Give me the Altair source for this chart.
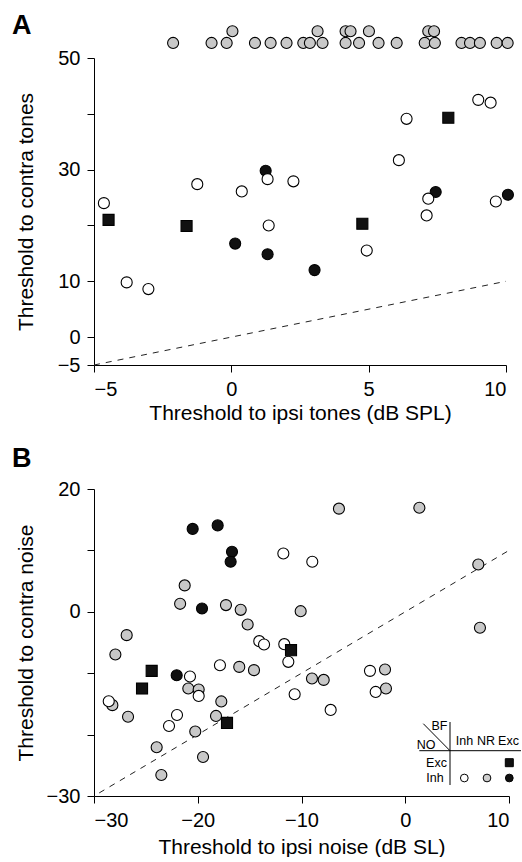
import altair as alt
import pandas as pd

# ---------------- Panel A data (tones) ----------------
a_open_x = [8.99, 9.44, 6.38, 6.10, -1.24, 0.38, 1.32, 2.26, -4.64, 1.36, -3.81, -3.02, 4.93, 7.17, 7.11, 9.63]
a_open_y = [42.5, 42.0, 39.1, 31.7, 27.4, 26.1, 28.3, 27.9, 24.0, 20.0, 9.8, 8.6, 15.5, 24.8, 21.8, 24.3]
a_filled_x = [1.25, 0.14, 1.32, 3.03, 7.44, 10.07]
a_filled_y = [29.8, 16.75, 14.85, 12.0, 26.0, 25.5]
a_square_x = [7.90, -4.47, -1.63, 4.77]
a_square_y = [39.3, 21.0, 19.9, 20.3]
# no response to contra tones (plotted above the axis)
a_nr_low_x = [-2.12, -0.72, -0.17, 0.86, 1.43, 2.01, 2.62, 2.86, 3.32, 4.16, 4.65, 5.36,
              6.02, 7.04, 7.41, 8.38, 8.69, 9.05, 9.66, 10.06]
a_nr_high_x = [0.04, 3.14, 4.16, 4.34, 5.01, 7.17, 7.38]
a_nr_low_y = 52.7
a_nr_high_y = 54.8

# ---------------- Panel B data (noise) ----------------
b_gray_x = [-6.39, 1.36, 7.04, -21.26, -21.7, -17.28, -15.86, -10.08, -15.19, -26.85, 7.2, -27.94,
            -16.0, -14.58, -20.91, -19.91, -28.23, -17.73, -26.72, -18.24, -20.24, -23.96, -19.49,
            -23.51, -8.99, -7.86, -1.95, -1.86]
b_gray_y = [16.8, 16.95, 7.7, 4.3, 1.3, 1.09, 0.32, 0.1, -2.07, -3.8, -2.6, -6.96,
            -8.97, -9.5, -12.5, -12.67, -15.2, -14.6, -17.1, -16.96, -19.5, -22.06, -23.64,
            -26.58, -10.87, -11.09, -9.4, -12.5]
b_filled_x = [-20.49, -18.08, -16.70, -16.83, -19.59, -22.03]
b_filled_y = [13.5, 14.07, 9.78, 8.15, 0.54, -10.33]
b_open_x = [-11.75, -8.96, -14.07, -13.61, -11.66, -11.27, -17.86, -20.75, -19.91, -28.58, -22.0,
            -22.77, -10.66, -7.19, -3.40, -2.85]
b_open_y = [9.5, 8.15, -4.78, -5.33, -5.27, -8.15, -8.7, -10.55, -13.7, -14.56, -16.8,
            -18.6, -13.42, -15.98, -9.62, -13.05]
b_square_x = [-11.01, -24.44, -25.37, -17.18]
b_square_y = [-6.25, -9.62, -12.5, -18.1]

kinds = ["gray", "filled", "open", "square"]


def frame(groups):
    rows = []
    for kind, xs, ys in groups:
        if not isinstance(ys, list):
            ys = [ys] * len(xs)
        for x, y in zip(xs, ys):
            rows.append({"x": x, "y": y, "kind": kind})
    return pd.DataFrame(rows)


dfA = frame([
    ("gray", a_nr_low_x, a_nr_low_y),
    ("gray", a_nr_high_x, a_nr_high_y),
    ("filled", a_filled_x, a_filled_y),
    ("open", a_open_x, a_open_y),
    ("square", a_square_x, a_square_y),
])
dfB = frame([
    ("gray", b_gray_x, b_gray_y),
    ("filled", b_filled_x, b_filled_y),
    ("open", b_open_x, b_open_y),
    ("square", b_square_x, b_square_y),
])

FONT = "Liberation Sans"


def panel(df, letter, xdom, ydom, xaxis, yaxis, gray, width, height, diag, letter_y, extra=None):
    xs = alt.Scale(domain=xdom, nice=False, zero=False)
    ys = alt.Scale(domain=ydom, nice=False, zero=False)
    line = alt.Chart(pd.DataFrame({"x": diag, "y": diag})).mark_line(
        strokeDash=[6, 6], color="#222222", strokeWidth=1
    ).encode(
        x=alt.X("x:Q", scale=xs, axis=xaxis),
        y=alt.Y("y:Q", scale=ys, axis=yaxis),
    )
    pts = alt.Chart(df).mark_point(
        filled=True, stroke="black", strokeWidth=1.1, opacity=1, size=122
    ).encode(
        x=alt.X("x:Q", scale=xs, axis=xaxis),
        y=alt.Y("y:Q", scale=ys, axis=yaxis),
        shape=alt.Shape("kind:N", scale=alt.Scale(domain=kinds, range=["circle", "circle", "circle", "square"]), legend=None),
        fill=alt.Fill("kind:N", scale=alt.Scale(domain=kinds, range=[gray, "#111111", "#ffffff", "#111111"]), legend=None),
    )
    lab = alt.Chart(pd.DataFrame({"t": [letter]})).mark_text(
        font=FONT, fontSize=27, fontWeight="bold", align="left", baseline="alphabetic", color="black"
    ).encode(x=alt.value(-82), y=alt.value(letter_y), text="t:N")
    layers = [line, pts, lab] + (extra or [])
    return alt.layer(*layers).properties(width=width, height=height)


# ---------- legend table for panel B ----------
one = pd.DataFrame({"k": [0]})


def ltext(s, x, y, size=12.5):
    return alt.Chart(pd.DataFrame({"t": [s]})).mark_text(
        font=FONT, fontSize=size, align="center", baseline="middle", color="black"
    ).encode(x=alt.value(x), y=alt.value(y), text="t:N")


def lrule(x1, y1, x2, y2):
    return alt.Chart(one).mark_rule(color="black", strokeWidth=1).encode(
        x=alt.value(x1), y=alt.value(y1), x2=alt.value(x2), y2=alt.value(y2)
    )


def lsym(x, y, shape, fill, size):
    return alt.Chart(one).mark_point(
        shape=shape, filled=True, fill=fill, stroke="black", strokeWidth=1, opacity=1, size=size
    ).encode(x=alt.value(x), y=alt.value(y))


legend = [
    lrule(356, 233, 356, 296),
    lrule(329.3, 234.7, 356, 261.7),
    lrule(325.3, 261.7, 427, 261.7),
    ltext("BF", 345.5, 237),
    ltext("NO", 332, 256),
    ltext("Inh", 370.5, 252),
    ltext("NR", 392, 252),
    ltext("Exc", 414.5, 252),
    ltext("Exc", 342.5, 273.7),
    ltext("Inh", 341, 289),
    lsym(415.3, 273.7, "square", "#111111", 64),
    lsym(370.3, 289, "circle", "#ffffff", 60),
    lsym(393, 289, "circle", "#cfcfcf", 60),
    lsym(415.3, 289, "circle", "#111111", 60),
]

axis_common = dict(labelPadding=7, titleFontWeight="normal")

xA = alt.Axis(title="Threshold to ipsi tones (dB SPL)", values=[-5, 0, 5, 10], titlePadding=3, **axis_common)
yA = alt.Axis(title="Threshold to contra tones", values=[-5, 0, 10, 20, 30, 40, 50],
              labelExpr="(datum.value == 20 || datum.value == 40) ? '' : datum.label",
              titleX=-62, titleY=153.5, titleBaseline="alphabetic", **axis_common)
xB = alt.Axis(title="Threshold to ipsi noise (dB SL)", values=[-30, -20, -10, 0, 10], titlePadding=6, **axis_common)
yB = alt.Axis(title="Threshold to contra noise", values=[-30, -20, -10, 0, 10, 20],
              labelExpr="(datum.value == 20 || datum.value == 0 || datum.value == -30) ? datum.label : ''",
              titleX=-62, titleY=153.5, titleBaseline="alphabetic", **axis_common)

panelA = panel(dfA, "A", [-5, 10], [-5, 50], xA, yA, "#c8c8c8", 412, 307, [-5, 10], -24)
panelB = panel(dfB, "B", [-30, 10], [-30, 20], xB, yB, "#aaaaaa", 415, 307, [-29.5, 10], -22, legend)

chart = alt.vconcat(panelA, panelB, spacing=22).properties(
    padding={"left": 12, "top": 12, "right": 0, "bottom": 0}
).configure_view(stroke=None).configure_axis(
    labelFont=FONT, titleFont=FONT, labelFontSize=20, titleFontSize=21,
    labelColor="black", titleColor="black", domainColor="black", tickColor="black",
    tickSize=7, grid=False, domainWidth=1, tickWidth=1,
)

chart.save("out.html", embed_options={"renderer": "svg", "actions": False})
